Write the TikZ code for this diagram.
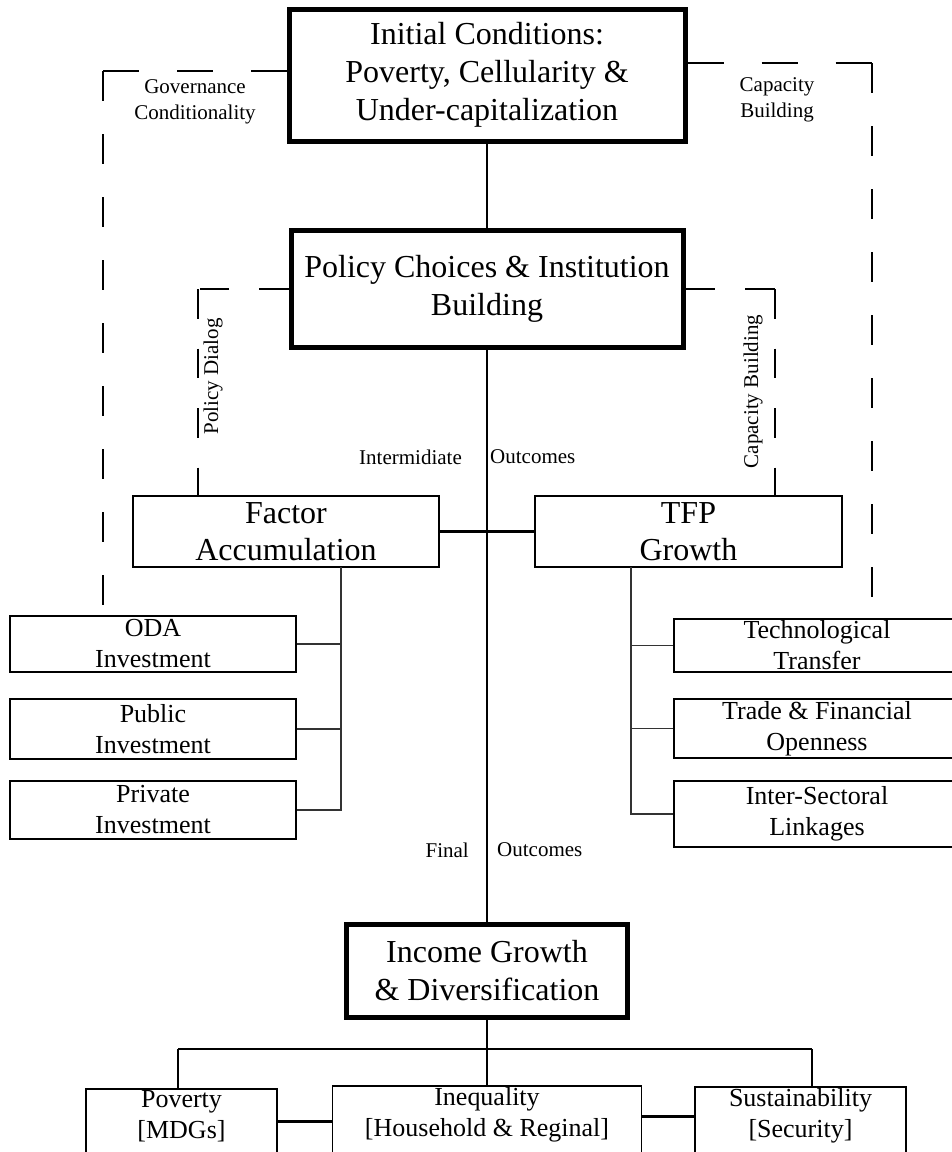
\documentclass[tikz,border=0pt]{standalone}
\usepackage{fontspec}
\setmainfont{Liberation Serif}
\usepackage{tikz}

\begin{document}
\begin{tikzpicture}[x=1pt, y=-1pt,
    mainbox/.style={draw, line width=5pt, align=center, inner sep=0pt, font=\fontsize{32}{38}\selectfont},
    midbox/.style={draw, line width=1.8pt, align=center, inner sep=0pt, font=\fontsize{32}{37}\selectfont},
    subbox/.style={draw, line width=1.8pt, align=center, inner sep=0pt, font=\fontsize{26}{31}\selectfont},
    lowbox/.style={subbox, anchor=north, inner ysep=2pt, text depth=60pt},
    small/.style={align=center, inner sep=0pt, font=\fontsize{21}{26}\selectfont},
    trunk/.style={line width=2pt},
    link/.style={line width=1.4pt, black!80},
    outerh/.style={line width=1.8pt, dash pattern=on 36pt off 38pt},
    outerv/.style={line width=1.8pt, dash pattern=on 30pt off 33pt},
    innerdash/.style={line width=1.8pt, dash pattern=on 29.5pt off 30pt}]
    \useasboundingbox (0,0) rectangle (952,1152);

    % main chain
    \node[mainbox, minimum width=396, minimum height=132] (init) at (487,75)
      {Initial Conditions:\\Poverty, Cellularity \&\\Under-capitalization};
    \node[mainbox, minimum width=392, minimum height=117] (policy) at (487,289)
      {Policy Choices \& Institution\\Building};
    \node[mainbox, minimum width=281, minimum height=93] (income) at (487,970.5)
      {Income Growth\\\& Diversification};

    % intermediate outcomes
    \node[midbox, minimum width=306, minimum height=71] (factor) at (286,531.5) {Factor\\Accumulation};
    \node[midbox, minimum width=307, minimum height=71] (tfp) at (688.5,531.5) {TFP\\Growth};

    \node[subbox, minimum width=286, minimum height=56] (oda) at (153,644) {ODA\\Investment};
    \node[subbox, minimum width=286, minimum height=60] (public) at (153,729) {Public\\Investment};
    \node[subbox, minimum width=286, minimum height=58] (private) at (153,810) {Private\\Investment};

    \node[subbox, minimum width=286, minimum height=53] (tech) at (817,645.5) {Technological\\Transfer};
    \node[subbox, minimum width=286, minimum height=59] (trade) at (817,728.5) {Trade \& Financial\\Openness};
    \node[subbox, minimum width=286, minimum height=66] (inter) at (817,814) {Inter-Sectoral\\Linkages};

    % final outcomes
    \node[lowbox, minimum width=191] (poverty) at (181.5,1088) {Poverty\\{[}MDGs{]}};
    \node[lowbox, minimum width=309] (ineq) at (487,1085) {Inequality\\{[}Household \& Reginal{]}};
    \node[lowbox, minimum width=211] (sust) at (800.5,1086) {Sustainability\\{[}Security{]}};

    % labels
    \node[small] (gov) at (195,102) {Governance\\Conditionality};
    \node[small] (capout) at (777,100) {Capacity\\Building};
    \node[small, rotate=90] (dialog) at (213,376.5) {Policy Dialog};
    \node[small, rotate=90] (capin) at (753,391.5) {Capacity Building};
    \node[small, anchor=east] (midleft) at (462,457) {Intermidiate};
    \node[small, anchor=west] (midright) at (490,457) {Outcomes};
    \node[small, anchor=east] (finleft) at (469,850) {Final};
    \node[small, anchor=west] (finright) at (497,850) {Outcomes};

    % corners and levels
    \coordinate (govcorner) at (103,71);
    \coordinate (govend) at (103,608);
    \coordinate (capcorner) at (872,63);
    \coordinate (capend) at (872,605);
    \coordinate (dialogcorner) at (198,289);
    \coordinate (capincorner) at (775,289);
    \coordinate (ftree) at (341,567);
    \coordinate (ttree) at (631,567);
    \coordinate (busL) at (178,1049);
    \coordinate (busR) at (812,1049);
    \coordinate (povlevel) at (0,1121);
    \coordinate (sustlevel) at (0,1116);

    % dashed feedback
    \draw[outerh] (init.west |- govcorner) -- (govcorner);
    \draw[outerv] (govcorner) -- (govend);
    \draw[outerh] (init.east |- capcorner) -- (capcorner);
    \draw[outerv] (capcorner) -- (capend);
    \draw[innerdash] (policy.west) -- (dialogcorner);
    \draw[innerdash] (dialogcorner) -- (dialogcorner |- factor.north);
    \draw[innerdash] (policy.east) -- (capincorner);
    \draw[innerdash] (capincorner) -- (capincorner |- tfp.north);

    % trunk
    \draw[trunk] (init.south) -- (policy.north);
    \draw[trunk] (policy.south) -- (income.north);
    \draw[line width=2.5pt] (factor.east) -- (tfp.west);

    % factor tree
    \draw[link] (ftree) -- (ftree |- private.east) -- (private.east);
    \draw[link] (oda.east) -- (oda.east -| ftree);
    \draw[link] (public.east) -- (public.east -| ftree);
    % tfp tree
    \draw[link] (ttree) -- (ttree |- inter.west) -- (inter.west);
    \draw[link] (tech.west) -- (tech.west -| ttree);
    \draw[link] (trade.west) -- (trade.west -| ttree);

    % bottom bus
    \draw[trunk] (income.south) -- (ineq.north);
    \draw[trunk] (busL) -- (busR);
    \draw[trunk] (busL) -- (busL |- poverty.north);
    \draw[trunk] (busR) -- (busR |- sust.north);
    \draw[line width=3pt] (poverty.east |- povlevel) -- (ineq.west |- povlevel);
    \draw[line width=3pt] (ineq.east |- sustlevel) -- (sust.west |- sustlevel);
  \end{tikzpicture}
\end{document}
